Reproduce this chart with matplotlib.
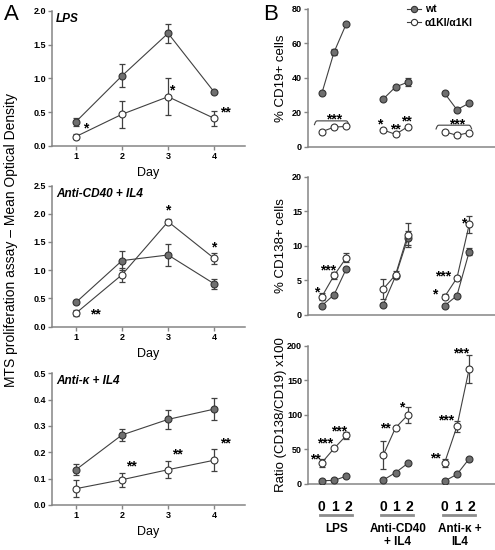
import numpy as np
import matplotlib
matplotlib.use('Agg')
import matplotlib.pyplot as plt
from matplotlib.transforms import blended_transform_factory
from matplotlib.lines import Line2D

plt.rcParams['font.family'] = ['Liberation Sans', 'DejaVu Sans']

W, H = 495, 550

# ---------------- Panel A data ----------------
days = [1, 2, 3, 4]
lps_wt = [0.36, 1.04, 1.67, 0.80]
lps_wt_err = [0.06, 0.17, 0.14, 0.02]
lps_ki = [0.14, 0.47, 0.73, 0.41]
lps_ki_err = [0.04, 0.20, 0.27, 0.11]

cd40_wt = [0.43, 1.17, 1.27, 0.76]
cd40_wt_err = [0.03, 0.17, 0.19, 0.09]
cd40_ki = [0.24, 0.92, 1.86, 1.21]
cd40_ki_err = [0.05, 0.12, 0.05, 0.10]

kap_wt = [0.134, 0.266, 0.325, 0.364]
kap_wt_err = [0.021, 0.024, 0.035, 0.042]
kap_ki = [0.062, 0.096, 0.134, 0.170]
kap_ki_err = [0.033, 0.027, 0.032, 0.042]

a_titles = ['LPS', 'Anti-CD40 + IL4', 'Anti-κ + IL4']
a_ylims = [2.0, 2.5, 0.5]
a_yticks = [[0.0, 0.5, 1.0, 1.5, 2.0], [0.0, 0.5, 1.0, 1.5, 2.0, 2.5], [0.0, 0.1, 0.2, 0.3, 0.4, 0.5]]
a_stars = [
    [('*', 1.22, 0.26), ('*', 3.07, 0.83), ('**', 4.24, 0.49)],
    [('**', 1.42, 0.22), ('*', 3.0, 2.05), ('*', 4.0, 1.40)],
    [('**', 2.2, 0.148), ('**', 3.2, 0.190), ('**', 4.24, 0.232)],
]

# ---------------- Panel B data ----------------
groups = ['LPS', 'Anti-CD40\n+ IL4', 'Anti-κ +\nIL4']
steps = [0, 1, 2]

cd19_wt = [[31.0, 55.0, 71.5], [27.7, 34.7, 37.5], [31.0, 21.5, 25.3]]
cd19_wt_err = [[0, 2.0, 0], [0, 0, 2.5], [0, 0, 0]]
cd19_ki = [[8.7, 11.4, 11.8], [9.7, 7.2, 11.6], [8.7, 6.6, 8.2]]
cd19_ki_err = [[0, 0, 0], [0, 0, 0], [0, 0, 0]]

cd138_wt = [[1.35, 2.94, 6.7], [1.5, 5.6, 11.1], [1.35, 2.8, 9.15]]
cd138_wt_err = [[0, 0, 0], [0, 0, 1.0], [0, 0, 0.5]]
cd138_ki = [[2.65, 5.73, 8.3], [3.76, 5.8, 11.6], [2.65, 5.35, 13.1]]
cd138_ki_err = [[0.5, 0.5, 0.6], [1.4, 0.5, 1.7], [0.4, 0, 1.2]]

ratio_wt = [[4.3, 4.8, 11.0], [5.3, 16.0, 29.5], [3.9, 13.5, 36.2]]
ratio_wt_err = [[0, 0, 0], [0, 0, 0], [0, 0, 0]]
ratio_ki = [[30.4, 51.2, 70.0], [41.5, 81.0, 99.5], [30.4, 83.0, 166.7]]
ratio_ki_err = [[6, 0, 5], [20, 0, 11], [6, 8, 20.5]]

b_ylabels = ['% CD19+ cells', '% CD138+ cells', 'Ratio (CD138/CD19) x100']
b_ylims = [80, 20, 200]
b_yticks = [[0, 20, 40, 60, 80], [0, 5, 10, 15, 20], [0, 50, 100, 150, 200]]

# star annotations: (text, x in group units, y)
b_stars = [
    [('***', 1.0, 15.8), ('*', 4.7, 12.8), ('**', 6.0, 10.3), ('**', 6.85, 14.8), ('***', 11.0, 12.8)],
    [('*', -0.45, 3.3), ('***', 0.5, 6.5), ('*', 9.2, 2.9), ('***', 9.85, 5.6), ('*', 11.55, 13.2)],
    [('**', -0.5, 35), ('***', 0.3, 59), ('***', 1.4, 76), ('**', 5.2, 80), ('*', 6.5, 111),
     ('**', 9.25, 37), ('***', 10.1, 92), ('***', 11.3, 189)],
]
# brackets in top B panel: (x_start, x_end, y)
b_brackets = [(-0.6, 2.2, 15.0), (9.3, 12.2, 12.5)]

# ---------------- styling ----------------
AX_COL = '#858585'
LINE_COL = '#404040'
WT_FILL = '#6f6f6f'
EDGE = '#333333'
STAR_SIZE = 10

fig = plt.figure(figsize=(W / 100, H / 100), dpi=100)


def fbox(l, r, t, b):
    return [l / W, 1 - b / H, (r - l) / W, (b - t) / H]


def style(ax):
    for s in ['top', 'right']:
        ax.spines[s].set_visible(False)
    for s in ['left', 'bottom']:
        ax.spines[s].set_color(AX_COL)
        ax.spines[s].set_linewidth(1.1)
    ax.tick_params(colors=AX_COL, length=3, width=1.0, labelsize=6.5, labelcolor='black', pad=1.5)
    for lab in ax.get_xticklabels() + ax.get_yticklabels():
        lab.set_fontweight('bold')


def draw(ax, x, y, e, filled):
    ax.errorbar(x, y, yerr=e, fmt='none', ecolor=LINE_COL, elinewidth=0.9, capsize=2.2,
                capthick=0.9, zorder=2)
    ax.plot(x, y, '-', color=LINE_COL, lw=0.8, zorder=3,
            marker='o', ms=5, mfc=(WT_FILL if filled else 'white'), mec=EDGE, mew=0.8)


# ---------------- Panel A ----------------
a_boxes = [fbox(52, 245, 11, 146), fbox(52, 245, 185.5, 326.7), fbox(52, 245, 373.3, 505)]
a_data = [(lps_wt, lps_wt_err, lps_ki, lps_ki_err),
          (cd40_wt, cd40_wt_err, cd40_ki, cd40_ki_err),
          (kap_wt, kap_wt_err, kap_ki, kap_ki_err)]
for i, box in enumerate(a_boxes):
    ax = fig.add_axes(box)
    wt, wte, ki, kie = a_data[i]
    draw(ax, days, wt, wte, True)
    draw(ax, days, ki, kie, False)
    ax.set_xlim(0.48, 4.67)
    ax.set_ylim(0, a_ylims[i])
    ax.set_xticks(days)
    ax.set_yticks(a_yticks[i])
    ax.set_yticklabels([f'{v:.1f}' for v in a_yticks[i]])
    style(ax)
    ax.set_xlabel('Day', fontsize=9, labelpad=4)
    ax.text(0.02, 0.985, a_titles[i], transform=ax.transAxes, fontsize=8.5,
            fontweight='bold', style='italic', ha='left', va='top')
    for s, x, y in a_stars[i]:
        ax.text(x, y, s, fontsize=STAR_SIZE, ha='center', va='center', fontweight='bold')

fig.text(11 / W, 1 - 240 / H, 'MTS proliferation assay – Mean Optical Density',
         rotation=90, ha='center', va='center', fontsize=10)
fig.text(4 / W, 1 - 20.5 / H, 'A', fontsize=16, ha='left', va='baseline')

# ---------------- Panel B ----------------
b_boxes = [fbox(308.3, 495, 9, 146.7), fbox(308.3, 495, 176.7, 315), fbox(308.3, 495, 345.7, 483.7)]
b_data = [(cd19_wt, cd19_wt_err, cd19_ki, cd19_ki_err),
          (cd138_wt, cd138_wt_err, cd138_ki, cd138_ki_err),
          (ratio_wt, ratio_wt_err, ratio_ki, ratio_ki_err)]
b_axes = []
for i, box in enumerate(b_boxes):
    ax = fig.add_axes(box)
    b_axes.append(ax)
    wt, wte, ki, kie = b_data[i]
    for g in range(len(groups)):
        xs = [g * 5 + s for s in steps]
        errw = [v if v > 0 else np.nan for v in wte[g]]
        errk = [v if v > 0 else np.nan for v in kie[g]]
        draw(ax, xs, wt[g], errw, True)
        draw(ax, xs, ki[g], errk, False)
    ax.set_xlim(-1.1, 14.1)
    ax.set_ylim(0, b_ylims[i])
    ax.set_yticks(b_yticks[i])
    ax.set_xticks([])
    style(ax)
    ax.tick_params(axis='x', length=0)
    ax.set_ylabel(b_ylabels[i], fontsize=9.5, labelpad=4)
    ax.yaxis.set_label_coords(-21 / 187, 0.5)
    for s, x, y in b_stars[i]:
        ax.text(x, y, s, fontsize=STAR_SIZE, ha='center', va='center', fontweight='bold')

# brackets
axb = b_axes[0]
for x0, x1, y in b_brackets:
    t = np.linspace(0, 1, 40)
    xx = x0 + (x1 - x0) * t
    drop = 2.2
    yy = y - drop * (np.clip(1 - t / 0.07, 0, 1) ** 2 + np.clip(1 - (1 - t) / 0.07, 0, 1) ** 2)
    axb.plot(xx, yy, color=LINE_COL, lw=0.8)

# legend
h1 = Line2D([], [], color=LINE_COL, lw=0.8, marker='o', ms=4.5, mfc=WT_FILL, mec=EDGE, mew=0.8)
h2 = Line2D([], [], color=LINE_COL, lw=0.8, marker='o', ms=4.5, mfc='white', mec=EDGE, mew=0.8)
fig.legend([h1, h2], ['wt', 'α1KI/α1KI'], loc='upper left', bbox_to_anchor=(401 / W, 1 + 2 / H),
           frameon=False, handlelength=1.3, handletextpad=0.4, labelspacing=0.35, borderpad=0.1,
           prop={'size': 7.5, 'weight': 'bold'})

# bottom category labels
axr = b_axes[2]
tr = blended_transform_factory(axr.transData, fig.transFigure)
for g, name in enumerate(groups):
    for s in steps:
        axr.text(g * 5 + s * 1.07, 1 - 507 / H, str(s), transform=tr, fontsize=10,
                 fontweight='bold', ha='center', va='center')
    axr.plot([g * 5 - 0.15, g * 5 + 2.45], [1 - 515 / H] * 2, transform=tr, color='#8c8c8c',
             lw=2.0, clip_on=False)
    axr.text(g * 5 + 1.2, 1 - 523 / H, name, transform=tr, fontsize=8.5, fontweight='bold',
             ha='center', va='top', linespacing=1.15)

fig.text(263 / W, 1 - 20.5 / H, 'B', fontsize=16, ha='left', va='baseline')

fig.savefig('out.png', dpi=100)
